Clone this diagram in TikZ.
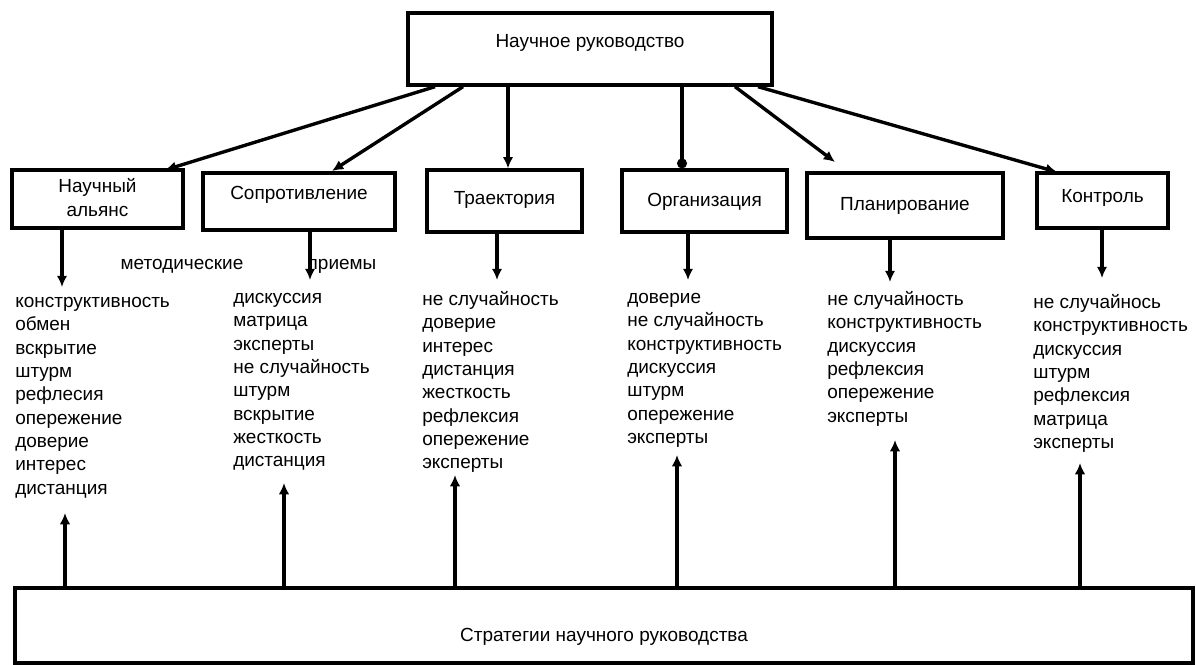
\documentclass[tikz,border=0pt]{standalone}
\usepackage{fontspec}
\setmainfont{Liberation Sans}
\usetikzlibrary{arrows.meta,fit}

\tikzset{
  blok/.style={draw, line width=2.4pt, inner sep=0pt, align=center},
  spisok/.style={anchor=north west, inner sep=0pt, align=left},
  strelka/.style={line width=2.4pt, -{Latex[length=8pt,width=7.5pt]}},
}

\begin{document}
\begin{tikzpicture}[x=0.025cm, y=-0.025cm, font=\fontsize{13.5}{16.6}\selectfont]
\useasboundingbox (0,0) rectangle (1196,664);
% bloki
\node[blok, fit={(408,13) (772,85)}] (rukov) {Научное руководство};
\node[blok, fit={(12,170) (183,228)}, label={[yshift=1pt, align=center]center:Научный\\[1pt]альянс}] (alyans) {};
\node[blok, fit={(203,173) (395,230)}] (sopr) {Сопротивление};
\node[blok, fit={(427,170) (582,232)}, label={[yshift=0.5pt]center:Траектория}] (traekt) {};
\node[blok, fit={(622,170) (787,232)}, label={[yshift=-0.5pt]center:Организация}] (organ) {};
\node[blok, fit={(807,173) (1003,238)}, label={[yshift=-0.5pt]center:Планирование}] (plan) {};
\node[blok, fit={(1037,173) (1168,228)}, label={[yshift=1.5pt]center:Контроль}] (kontr) {};
\node[blok, fit={(15,588) (1193,663)}, label={[yshift=-8pt]center:Стратегии научного руководства}] (strat) {};
% podpisi
\node (metod) at (182,266) {методические};
\node (priem) at (342,266) {приемы};
% spiski priemov
\node[spisok] (sp1) at (15,297) {конструктивность\\обмен\\вскрытие\\штурм\\рефлесия\\опережение\\доверие\\интерес\\дистанция};
\node[spisok] (sp2) at (233,293) {дискуссия\\матрица\\эксперты\\не случайность\\штурм\\вскрытие\\жесткость\\дистанция};
\node[spisok] (sp3) at (422,291) {не случайность\\доверие\\интерес\\дистанция\\жесткость\\рефлексия\\опережение\\эксперты};
\node[spisok] (sp4) at (627,293) {доверие\\не случайность\\конструктивность\\дискуссия\\штурм\\опережение\\эксперты};
\node[spisok] (sp5) at (827,291) {не случайность\\конструктивность\\дискуссия\\рефлексия\\опережение\\эксперты};
\node[spisok] (sp6) at (1033,294) {не случайнось\\конструктивность\\дискуссия\\штурм\\рефлексия\\матрица\\эксперты};
% koncy strelok
\coordinate (t1) at (165,170);
\coordinate (t2) at (332,171);
\coordinate (t5) at (835,162);
\coordinate (t6) at (1057,172);
\coordinate (d1) at (62,287);
\coordinate (d2) at (310,280);
\coordinate (d3) at (497,280);
\coordinate (d4) at (688,280);
\coordinate (d5) at (890,282);
\coordinate (d6) at (1102,278);
\coordinate (u1) at (65,513);
\coordinate (u2) at (284,483);
\coordinate (u3) at (455,475);
\coordinate (u4) at (677,455);
\coordinate (u5) at (895,440);
\coordinate (u6) at (1080,463);
% ot nauchnogo rukovodstva
\draw[strelka] (435,0 |- rukov.south) -- (t1);
\draw[strelka] (463,0 |- rukov.south) -- (t2);
\draw[strelka] (508,0 |- rukov.south) -- (508,0 |- traekt.north);
\draw[line width=2.4pt, -{Circle[length=7pt]}] (682,0 |- rukov.south) -- (682,0 |- organ.north);
\draw[strelka] (735,0 |- rukov.south) -- (t5);
\draw[strelka] (758,0 |- rukov.south) -- (t6);
% vniz k spiskam
\draw[strelka] (d1 |- alyans.south) -- (d1);
\draw[strelka] (d2 |- sopr.south) -- (d2);
\draw[strelka] (d3 |- traekt.south) -- (d3);
\draw[strelka] (d4 |- organ.south) -- (d4);
\draw[strelka] (d5 |- plan.south) -- (d5);
\draw[strelka] (d6 |- kontr.south) -- (d6);
% vverkh ot strategij
\draw[strelka] (u1 |- strat.north) -- (u1);
\draw[strelka] (u2 |- strat.north) -- (u2);
\draw[strelka] (u3 |- strat.north) -- (u3);
\draw[strelka] (u4 |- strat.north) -- (u4);
\draw[strelka] (u5 |- strat.north) -- (u5);
\draw[strelka] (u6 |- strat.north) -- (u6);
\end{tikzpicture}
\end{document}
